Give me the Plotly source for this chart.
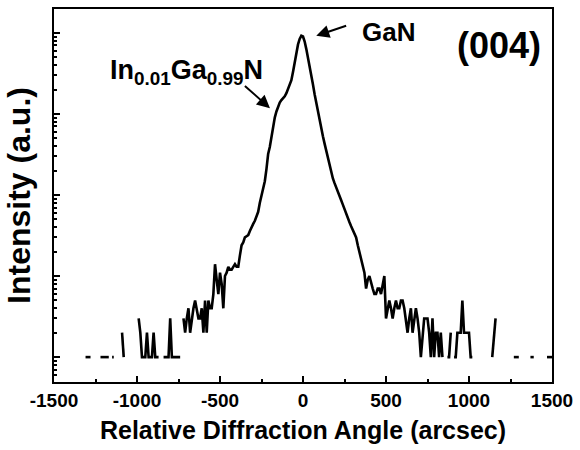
import plotly.graph_objects as go

# Measured rocking curve (counts) vs relative diffraction angle (arcsec)
angle_arcsec = [
    -1310,
    -1300, -1290, -1280, -1270, -1260, -1250, -1240, -1230, -1220, -1210,
    -1200, -1190, -1180, -1170, -1160, -1150, -1140, -1130, -1120, -1110,
    -1100, -1090, -1080, -1070, -1060, -1050, -1040, -1030, -1020, -1010,
    -1000, -990, -980, -970, -960, -950, -940, -930, -920, -910,
    -900, -890, -880, -870, -860, -850, -840, -830, -820, -810,
    -800, -790, -780, -770, -760, -750, -740, -730, -720, -710,
    -700, -690, -680, -670, -660, -650, -640, -630, -620, -610,
    -600, -590, -580, -570, -560, -550, -540, -530, -520, -510,
    -500, -490, -480, -470, -460, -450, -440, -430, -420, -410,
    -400, -390, -380, -370, -360, -350, -340, -330, -320, -310,
    -300, -290, -280, -270, -260, -250, -240, -230, -220, -210,
    -200, -190, -180, -170, -160, -150, -140, -130, -120, -110,
    -100, -90, -80, -70, -60, -50, -40, -30, -20, -10,
    0, 10, 20, 30, 40, 50, 60, 70, 80, 90,
    100, 110, 120, 130, 140, 150, 160, 170, 180, 190,
    200, 210, 220, 230, 240, 250, 260, 270, 280, 290,
    300, 310, 320, 330, 340, 350, 360, 370, 380, 390,
    400, 410, 420, 430, 440, 450, 460, 470, 480, 490,
    500, 510, 520, 530, 540, 550, 560, 570, 580, 590,
    600, 610, 620, 630, 640, 650, 660, 670, 680, 690,
    700, 710, 720, 730, 740, 750, 760, 770, 780, 790,
    800, 810, 820, 830, 840, 850, 860, 870, 880, 890,
    900, 910, 920, 930, 940, 950, 960, 970, 980, 990,
    1000, 1010, 1020, 1030, 1040, 1050, 1060, 1070, 1080, 1090,
    1100, 1110, 1120, 1130, 1140, 1150, 1160, 1170, 1180, 1190,
    1200, 1210, 1220, 1230, 1240, 1250, 1260, 1270, 1280, 1290,
    1300, 1310, 1320, 1330, 1340, 1350, 1360, 1370, 1380, 1390,
    1400, 1410, 1420, 1430, 1440, 1450, 1460, 1470, 1480, 1490,
    1500,
]

counts = [
    1,
    1, 1, 1, 0, 0, 0, 0, 0, 1, 1,
    1, 1, 1, 1, 0, 1, 1, 0, 0, 0,
    0, 2, 1, 0, 0, 0, 0, 0, 0, 0,
    0, 3, 2, 1, 1, 1, 2, 1, 1, 1,
    2, 1, 1, 1, 0, 0, 1, 1, 1, 1,
    3, 1, 1, 1, 1, 1, 1, 0, 3, 2,
    3, 4, 2, 3, 4, 5, 4, 3, 3, 4,
    2, 5, 2, 5, 4, 4, 6, 14, 9, 6,
    11, 8, 4, 10, 11, 13, 12, 12, 13, 14,
    13, 13, 18, 24, 26, 30, 31, 32, 36, 39,
    44, 48, 55, 62, 80, 100, 128, 148, 210, 320,
    390, 520, 650, 900, 1070, 1250, 1380, 1480, 1560, 1650,
    1800, 2000, 2250, 2600, 3300, 4300, 5800, 7200, 8400, 9200,
    9000, 7800, 6300, 5000, 4000, 3100, 2300, 1750, 1350, 1050,
    820, 650, 530, 430, 350, 285, 235, 195, 160, 140,
    122, 110, 98, 86, 76, 66, 58, 51, 46, 41,
    37, 34, 30, 24, 20, 17, 14, 11, 7, 9,
    10, 8, 7, 6, 6, 7, 7, 6, 8, 10,
    3, 4, 5, 4, 3, 4, 5, 4, 4, 5,
    5, 4, 3, 2, 3, 4, 2, 3, 4, 3,
    2, 1, 2, 3, 3, 3, 2, 1, 3, 1,
    2, 2, 1, 2, 1, 0, 0, 1, 1, 2,
    0, 1, 1, 2, 2, 2, 5, 2, 2, 2,
    2, 1, 1, 0, 0, 0, 0, 0, 0, 0,
    0, 0, 0, 0, 1, 2, 3, 0, 0, 0,
    0, 0, 0, 0, 0, 0, 0, 1, 1, 1,
    1, 0, 0, 0, 0, 0, 0, 1, 1, 1,
    0, 0, 0, 0, 0, 0, 0, 1, 1, 1,
    1,
]

x_tick_values = [-1500, -1000, -500, 0, 500, 1000, 1500]
x_tick_labels = ["-1500", "-1000", "-500", "0", "500", "1000", "1500"]

# zero counts cannot be shown on a log axis -> gaps
intensity = [c if c > 0 else None for c in counts]

FONT = "Liberation Sans, Arial, sans-serif"

fig = go.Figure()
fig.add_trace(go.Scatter(
    x=angle_arcsec, y=intensity, mode="lines",
    line=dict(color="black", width=2.6),
    connectgaps=False, showlegend=False, hoverinfo="skip",
))

fig.update_layout(
    width=580, height=450,
    margin=dict(l=54, r=24, t=7, b=68),
    paper_bgcolor="white", plot_bgcolor="white",
    font=dict(family=FONT, color="black"),
    showlegend=False,
)

fig.update_xaxes(
    range=[-1500, 1500],
    tickmode="array", tickvals=x_tick_values, ticktext=x_tick_labels,
    ticks="inside", ticklen=6, tickwidth=2, tickcolor="black",
    minor=dict(ticks="inside", ticklen=3, tickwidth=2, tickcolor="black",
               tickvals=[-1250, -750, -250, 250, 750, 1250], showgrid=False),
    showline=True, linewidth=2, linecolor="black", mirror=True,
    showgrid=False, zeroline=False,
    tickfont=dict(family=FONT, size=19, weight="bold", color="black"),
    title=dict(text="Relative Diffraction Angle (arcsec)",
               font=dict(family=FONT, size=25, weight="bold", color="black"),
               standoff=12),
)

fig.update_yaxes(
    type="log", range=[-0.307, 4.294],
    dtick=1, ticks="inside", ticklen=6, tickwidth=2, tickcolor="black",
    minor=dict(ticks="inside", ticklen=3, tickwidth=1.5, tickcolor="black",
               dtick="D1", showgrid=False),
    showticklabels=False,
    showline=True, linewidth=2, linecolor="black", mirror=True,
    showgrid=False, zeroline=False,
    title=dict(text="Intensity (a.u.)",
               font=dict(family=FONT, size=32, weight="bold", color="black"),
               standoff=12),
)

# text labels
fig.add_annotation(text="(004)", xref="paper", yref="paper", x=0.894, y=0.903,
                   showarrow=False, xanchor="center", yanchor="middle",
                   font=dict(family=FONT, size=36, weight="bold", color="black"))
fig.add_annotation(text="GaN", xref="paper", yref="paper", x=0.671, y=0.939,
                   showarrow=False, xanchor="center", yanchor="middle",
                   font=dict(family=FONT, size=26, weight="bold", color="black"))
fig.add_annotation(text="In<sub>0.01</sub>Ga<sub>0.99</sub>N", xref="paper", yref="paper",
                   x=0.266, y=0.83, showarrow=False, xanchor="center", yanchor="middle",
                   font=dict(family=FONT, size=27, weight="bold", color="black"))

# arrows (head at x,y ; tail at ax,ay) in data coordinates (log10 for y)
fig.add_annotation(text="", x=-199, y=3.071, ax=-359, ay=3.362,
                   xref="x", yref="y", axref="x", ayref="y",
                   showarrow=True, arrowhead=2, arrowsize=1.3, arrowwidth=2,
                   arrowcolor="black", standoff=0)
fig.add_annotation(text="", x=80, y=3.963, ax=269, ay=4.094,
                   xref="x", yref="y", axref="x", ayref="y",
                   showarrow=True, arrowhead=2, arrowsize=1.3, arrowwidth=2,
                   arrowcolor="black", standoff=0)

fig.write_html("out.html")
